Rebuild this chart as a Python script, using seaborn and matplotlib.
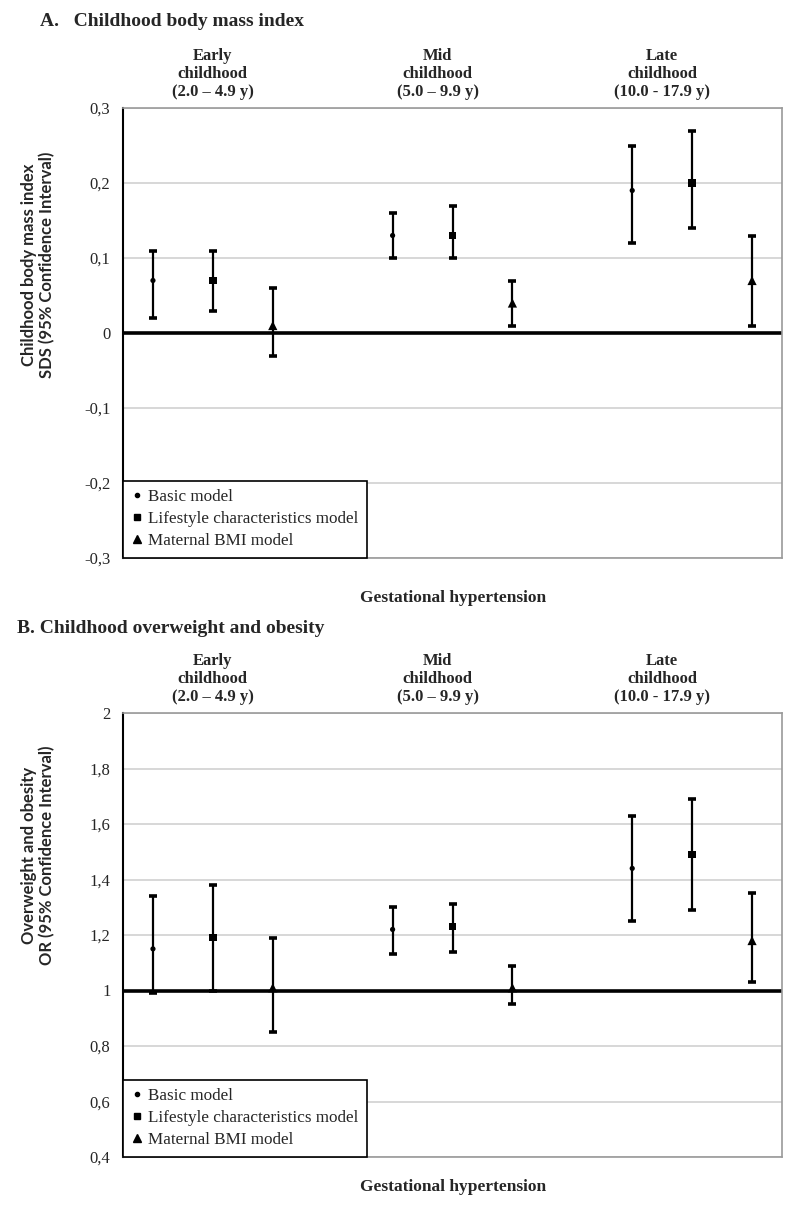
import numpy as np
import pandas as pd
import matplotlib
matplotlib.use("Agg")
import matplotlib.pyplot as plt
import matplotlib.transforms as mtransforms
from matplotlib.lines import Line2D
import seaborn as sns

# ---------------- data ----------------
groups = ["Early\nchildhood\n(2.0 \u2013 4.9 y)",
          "Mid\nchildhood\n(5.0 \u2013 9.9 y)",
          "Late\nchildhood\n(10.0 - 17.9 y)"]
models = ["Basic model", "Lifestyle characteristics model", "Maternal BMI model"]

bmi_est = [0.07, 0.07, 0.01, 0.13, 0.13, 0.04, 0.19, 0.20, 0.07]
bmi_lo = [0.02, 0.03, -0.03, 0.10, 0.10, 0.01, 0.12, 0.14, 0.01]
bmi_hi = [0.11, 0.11, 0.06, 0.16, 0.17, 0.07, 0.25, 0.27, 0.13]

ow_est = [1.15, 1.19, 1.01, 1.22, 1.23, 1.01, 1.44, 1.49, 1.18]
ow_lo = [0.99, 1.00, 0.85, 1.13, 1.14, 0.95, 1.25, 1.29, 1.03]
ow_hi = [1.34, 1.38, 1.19, 1.30, 1.31, 1.09, 1.63, 1.69, 1.35]

bmi_ticks = [-0.3, -0.2, -0.1, 0.0, 0.1, 0.2, 0.3]
ow_ticks = [0.4, 0.6, 0.8, 1.0, 1.2, 1.4, 1.6, 1.8, 2.0]

# ---------------- style ----------------
sns.set_style("white")
SERIF = ["Liberation Serif", "DejaVu Serif"]
SANS = ["Lato", "DejaVu Sans"]
plt.rcParams["font.family"] = SERIF

marker_map = {models[0]: "o", models[1]: "s", models[2]: "^"}
size_map = {models[0]: 14, models[1]: 28, models[2]: 44}


def build_df(est, lo, hi):
    rows = []
    k = 0
    for gi, g in enumerate(groups):
        for mi, m in enumerate(models):
            rows.append(dict(group=g, model=m, pos=gi * 4 + mi,
                             est=est[k], lo=lo[k], hi=hi[k]))
            k += 1
    return pd.DataFrame(rows)


def fmt(v):
    if abs(v) < 1e-9:
        return "0"
    return f"{v:g}".replace(".", ",")


fig = plt.figure(figsize=(8, 12.12), dpi=100)
W, H = 800, 1212
axA = fig.add_axes([123 / W, 1 - 558 / H, 659 / W, 450 / H])
axB = fig.add_axes([123 / W, 1 - 1157 / H, 659 / W, 444 / H])

header_x = [1.0, 4.75, 8.5]


def draw(ax, df, ticks, refline, ylim):
    ax.set_xlim(-0.5, 10.5)
    ax.set_ylim(*ylim)
    ax.set_yticks(ticks)
    ax.set_yticklabels([fmt(t) for t in ticks], fontsize=12, family=SERIF)
    ax.set_xticks([])
    for t in ticks:
        ax.axhline(t, color="#d4d4d4", lw=1.3, zorder=0)
    ax.axhline(refline, color="black", lw=2.6, zorder=1)
    ax.errorbar(df["pos"], df["est"],
                yerr=[df["est"] - df["lo"], df["hi"] - df["est"]],
                fmt="none", ecolor="black", elinewidth=1.6,
                capsize=3, capthick=2.6, zorder=3)
    sns.scatterplot(data=df, x="pos", y="est", style="model",
                    markers=marker_map, size="model", sizes=size_map,
                    color="black", edgecolor="black", linewidth=0,
                    legend=False, ax=ax, zorder=4)
    ax.set_xlabel("")
    ax.set_ylabel("")
    for s in ["top", "right", "bottom"]:
        ax.spines[s].set_visible(True)
        ax.spines[s].set_color("#9a9a9a")
        ax.spines[s].set_linewidth(1.2)
    ax.spines["left"].set_color("black")
    ax.spines["left"].set_linewidth(1.5)
    ax.tick_params(axis="y", length=5, width=1, color="black",
                   direction="out", pad=4)
    trans = mtransforms.blended_transform_factory(ax.transData, ax.transAxes)
    for hx, g in zip(header_x, groups):
        ax.text(hx, 1.0 + 8 / 450, g, transform=trans, ha="center",
                va="bottom", fontsize=12, fontweight="bold",
                family=SERIF, linespacing=1.18)
    handles = [Line2D([], [], linestyle="none", marker=marker_map[m],
                      color="black", markersize=ms)
               for m, ms in zip(models, [3, 5, 6])]
    leg = ax.legend(handles, models, loc="lower left",
                    bbox_to_anchor=(0, 0), borderaxespad=0,
                    frameon=True, fancybox=False, edgecolor="black",
                    framealpha=1, handlelength=0.6, handletextpad=0.35,
                    borderpad=0.5, labelspacing=0.36,
                    prop={"family": SERIF, "size": 12.3})
    leg.get_frame().set_linewidth(1.2)
    leg.set_zorder(5)


draw(axA, build_df(bmi_est, bmi_lo, bmi_hi), bmi_ticks, 0.0, (-0.3, 0.3))
draw(axB, build_df(ow_est, ow_lo, ow_hi), ow_ticks, 1.0, (0.4, 2.0))

fig.text(40 / W, 1 - 22 / H, "A.   Childhood body mass index",
         fontsize=14, fontweight="bold", family=SERIF, va="center")
fig.text(17 / W, 1 - 628 / H, "B. Childhood overweight and obesity",
         fontsize=14, fontweight="bold", family=SERIF, va="center")

fig.text(453 / W, 1 - 598 / H, "Gestational hypertension",
         fontsize=12.5, fontweight="bold", family=SERIF,
         ha="center", va="center")
fig.text(453 / W, 1 - 1187 / H, "Gestational hypertension",
         fontsize=12.5, fontweight="bold", family=SERIF,
         ha="center", va="center")

fig.text(38 / W, 1 - 265 / H,
         "Childhood body mass index\nSDS (95% Confidence Interval)",
         rotation=90, fontsize=12, fontweight="bold", family=SANS,
         ha="center", va="center", multialignment="center",
         linespacing=1.15)
fig.text(38 / W, 1 - 855 / H,
         "Overweight and obesity\nOR (95% Confidence Interval)",
         rotation=90, fontsize=12, fontweight="bold", family=SANS,
         ha="center", va="center", multialignment="center",
         linespacing=1.15)

fig.savefig("out.png", dpi=100)
